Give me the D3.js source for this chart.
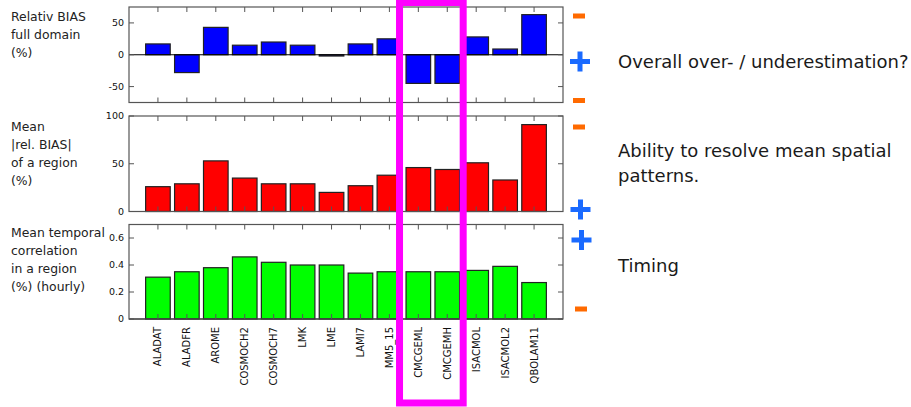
<!DOCTYPE html>
<html>
<head>
<meta charset="utf-8">
<script src="https://cdn.jsdelivr.net/npm/d3@7"></script>
<style>
  body { margin: 0; background: #fff; }
  svg { display: block; font-family: "DejaVu Sans", sans-serif; }
</style>
</head>
<body>
<div class="chart"></div>
<script>
// models on the x axis
const models = ["ALADAT", "ALADFR", "AROME", "COSMOCH2", "COSMOCH7", "LMK", "LME",
  "LAMI7", "MM5_15", "CMCGEML", "CMCGEMH", "ISACMOL", "ISACMOL2", "QBOLAM11"];

// relative bias, full domain (%)
const relBias = [17, -28, 43, 15, 20, 15, -2, 17, 25, -45, -45, 28, 9, 63];
// mean |rel. bias| of a region (%)
const meanAbsBias = [26, 29, 53, 35, 29, 29, 20, 27, 38, 46, 44, 51, 33, 91];
// mean temporal correlation in a region (hourly)
const meanCorr = [0.31, 0.35, 0.38, 0.46, 0.42, 0.40, 0.40, 0.34, 0.35, 0.35, 0.35, 0.36, 0.39, 0.27];

const yTicks1 = [-50, 0, 50];
const yTicks2 = [0, 50, 100];
const yTicks3 = [0, 0.2, 0.4, 0.6];

const width = 911, height = 407;

const svg = d3.select(".chart").append("svg")
  .attr("width", width)
  .attr("height", height);

const x = d3.scaleLinear().domain([-1, models.length]).range([129, 563]);
const barW = (x(1) - x(0)) * 0.85;

const panels = [
  { data: relBias, domain: [-75, 75], top: 7, bottom: 102.5, ticks: yTicks1, fmt: d => d,
    color: "#0000ff", label: ["Relativ BIAS", "full domain", "(%)"], labelY: 21 },
  { data: meanAbsBias, domain: [0, 100], top: 116, bottom: 211.5, ticks: yTicks2, fmt: d => d,
    color: "#ff0000", label: ["Mean", "|rel. BIAS|", "of a region", "(%)"], labelY: 131 },
  { data: meanCorr, domain: [0, 0.7], top: 224.5, bottom: 319, ticks: yTicks3, fmt: d => d === 0 ? "0" : d3.format(".1f")(d),
    color: "#00ff00", label: ["Mean temporal", "correlation", "in a region", "(%) (hourly)"], labelY: 237 }
];

panels.forEach(p => {
  const y = d3.scaleLinear().domain(p.domain).range([p.bottom, p.top]);
  const g = svg.append("g");

  // bars
  g.selectAll("rect.bar")
    .data(p.data)
    .enter()
    .append("rect")
      .attr("class", "bar")
      .attr("x", (d, i) => x(i) - barW / 2)
      .attr("y", d => y(Math.max(0, d)))
      .attr("width", barW)
      .attr("height", d => Math.max(1, Math.abs(y(d) - y(0))))
      .style("fill", p.color)
      .style("stroke", "#222")
      .style("stroke-width", 1.2);

  // zero line
  g.append("line")
    .attr("x1", x.range()[0]).attr("x2", x.range()[1])
    .attr("y1", y(0)).attr("y2", y(0))
    .style("stroke", "#000")
    .style("stroke-width", 1);

  // box
  g.append("rect")
    .attr("x", x.range()[0]).attr("y", p.top)
    .attr("width", x.range()[1] - x.range()[0])
    .attr("height", p.bottom - p.top)
    .style("fill", "none")
    .style("stroke", "#555")
    .style("stroke-width", 1.2);

  // x ticks, top and bottom, inward
  models.forEach((m, i) => {
    g.append("line").attr("x1", x(i)).attr("x2", x(i))
      .attr("y1", p.top).attr("y2", p.top + 5).style("stroke", "#555");
    g.append("line").attr("x1", x(i)).attr("x2", x(i))
      .attr("y1", p.bottom).attr("y2", p.bottom - 5).style("stroke", "#555");
  });

  // y ticks, left and right
  p.ticks.forEach(t => {
    g.append("line").attr("x1", x.range()[0]).attr("x2", x.range()[0] + 5)
      .attr("y1", y(t)).attr("y2", y(t)).style("stroke", "#555");
    g.append("line").attr("x1", x.range()[1]).attr("x2", x.range()[1] - 5)
      .attr("y1", y(t)).attr("y2", y(t)).style("stroke", "#555");
    g.append("text")
      .attr("x", 124).attr("y", y(t))
      .attr("dy", "0.35em")
      .attr("text-anchor", "end")
      .style("font-size", "9.5px")
      .style("fill", "#111")
      .text(p.fmt(t));
  });

  // panel label
  g.append("text")
    .attr("x", 11).attr("y", p.labelY)
    .style("font-size", "12.4px")
    .style("fill", "#222")
    .selectAll("tspan")
    .data(p.label)
    .enter()
    .append("tspan")
      .attr("x", 11)
      .attr("dy", (d, i) => i === 0 ? 0 : 18)
      .text(d => d);
});

// model names, rotated
svg.selectAll("text.model")
  .data(models)
  .enter()
  .append("text")
    .attr("class", "model")
    .attr("transform", (d, i) => `translate(${x(i)},327) rotate(-90)`)
    .attr("text-anchor", "end")
    .attr("dy", "0.35em")
    .style("font-size", "10px")
    .style("fill", "#111")
    .text(d => d);

// highlight of the two CMC models
svg.append("rect")
  .attr("x", x(8.35)).attr("y", 2.5)
  .attr("width", x(10.55) - x(8.35))
  .attr("height", 400.5)
  .style("fill", "none")
  .style("stroke", "#ff00ff")
  .style("stroke-width", 7);

// good / bad markers
const minus = [[579, 16], [579, 100.5], [579, 127], [581, 309]];
const plus = [[580, 61.5], [580.5, 209.5], [581.5, 240]];

svg.selectAll("rect.minus")
  .data(minus)
  .enter()
  .append("rect")
    .attr("class", "minus")
    .attr("x", d => d[0] - 6).attr("y", d => d[1] - 2.5)
    .attr("width", 12).attr("height", 5)
    .style("fill", "#ff6a00");

plus.forEach(d => {
  svg.append("rect").attr("x", d[0] - 10).attr("y", d[1] - 2.5)
    .attr("width", 20).attr("height", 5).style("fill", "#1a6aff");
  svg.append("rect").attr("x", d[0] - 2.5).attr("y", d[1] - 10)
    .attr("width", 5).attr("height", 20).style("fill", "#1a6aff");
});

// explanations
const notes = [
  { lines: ["Overall over- / underestimation?"], y: 67.5 },
  { lines: ["Ability to resolve mean spatial", "patterns."], y: 156.5 },
  { lines: ["Timing"], y: 271.5 }
];

notes.forEach(n => {
  svg.append("text")
    .attr("x", 618).attr("y", n.y)
    .style("font-size", "18px")
    .style("fill", "#1a1a1a")
    .selectAll("tspan")
    .data(n.lines)
    .enter()
    .append("tspan")
      .attr("x", 618)
      .attr("dy", (d, i) => i === 0 ? 0 : 25)
      .text(d => d);
});
</script>
</body>
</html>
